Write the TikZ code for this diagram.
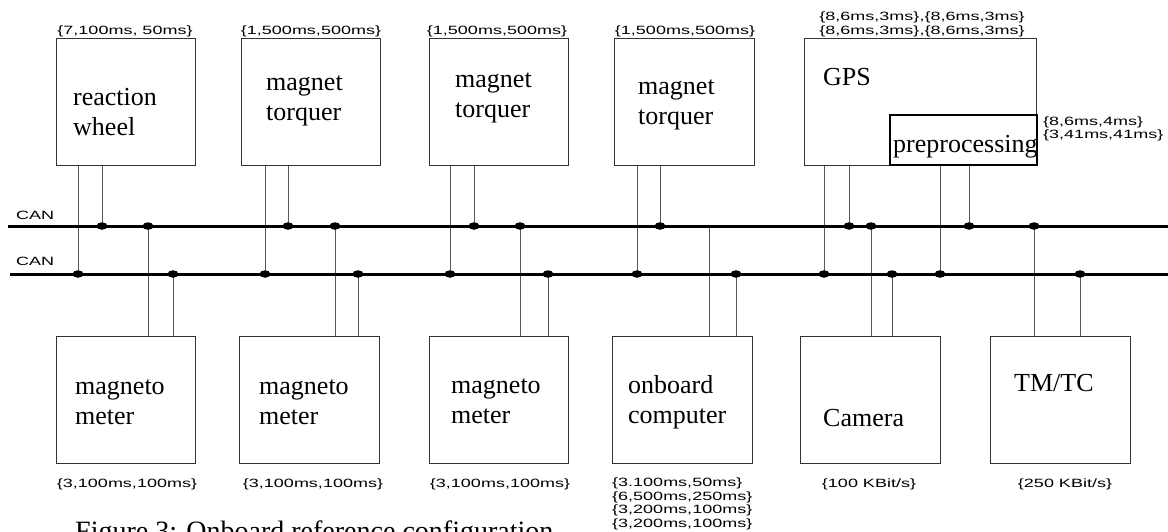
\documentclass[tikz,border=0pt]{standalone}
\usepackage{fontspec}
\usetikzlibrary{shapes.geometric,backgrounds}
\newfontfamily\serifface{Liberation Serif}
\newfontfamily\sansface[FakeStretch=1.5]{Liberation Sans}
\newcommand\unitfont{\serifface\fontsize{26}{30}\selectfont}
\newcommand\timingfont{\sansface\fontsize{12}{13.5}\selectfont}
\newcommand\figfont{\serifface\fontsize{28}{32}\selectfont}

\begin{document}
\begin{tikzpicture}[
    x=1pt, y=-1pt,
    blk/.style={
        draw=black!80,
        line width=0.8pt,
        anchor=north west,
        inner sep=0pt,
        outer sep=0pt,
        minimum height=127pt
    },
    label/.style={font=\unitfont, anchor=base west, align=left, inner sep=0pt},
    timing/.style={font=\timingfont, inner sep=0pt},
    bus/.style={line width=3pt},
    tap/.style={ellipse, fill=black, inner sep=0pt, minimum width=11pt, minimum height=7.5pt},
    wire/.style={line width=0.8pt, draw=black!65}
]
\useasboundingbox (0,0) rectangle (1168,531);

% units above the buses
\node[blk, minimum width=139pt] (rw) at (56,38) {};
\node[blk, minimum width=139pt] (mtA) at (241,38) {};
\node[blk, minimum width=139pt] (mtB) at (429,38) {};
\node[blk, minimum width=140pt] (mtC) at (614,38) {};
\node[blk, minimum width=232pt] (gps) at (804,38) {};
\node[blk, draw=black, line width=1.8pt, fill=white, minimum width=147pt, minimum height=50pt] (pre) at (890,115) {};

% units below the buses
\node[blk, minimum width=139pt] (mmA) at (56,336) {};
\node[blk, minimum width=140pt] (mmB) at (239,336) {};
\node[blk, minimum width=139pt] (mmC) at (429,336) {};
\node[blk, minimum width=140pt] (obc) at (612,336) {};
\node[blk, minimum width=140pt] (cam) at (800,336) {};
\node[blk, minimum width=140pt] (tmtc) at (990,336) {};

% the two CAN buses
\coordinate (canAw) at (8,226);
\coordinate (canAe) at (1168,226);
\coordinate (canBw) at (10,274);
\coordinate (canBe) at (1168,274);
\draw[bus] (canAw) -- (canAe);
\draw[bus] (canBw) -- (canBe);
\node[timing, anchor=base west] (canAlbl) at (16,219.5) {CAN};
\node[timing, anchor=base west] (canBlbl) at (16,265) {CAN};

% taps of the upper units
\foreach \x/\y/\blk in {78/274/rw, 102/226/rw, 265/274/mtA, 288/226/mtA,
    450/274/mtB, 474/226/mtB, 637/274/mtC, 660/226/mtC,
    824/274/gps, 849/226/gps, 940/274/pre, 969/226/pre} {
    \node[tap] (tap\x) at (\x,\y) {};
    \begin{scope}[on background layer]
        \draw[wire] (tap\x.center) -- (tap\x |- \blk.south);
    \end{scope}
}

% taps of the lower units
\foreach \x/\y/\blk in {148/226/mmA, 173/274/mmA, 335/226/mmB, 358/274/mmB,
    520/226/mmC, 548/274/mmC, 736/274/obc,
    871/226/cam, 892/274/cam, 1034/226/tmtc, 1080/274/tmtc} {
    \node[tap] (tap\x) at (\x,\y) {};
    \begin{scope}[on background layer]
        \draw[wire] (tap\x.center) -- (tap\x |- \blk.north);
    \end{scope}
}
\coordinate (tap709) at (709,226);
\begin{scope}[on background layer]
    \draw[wire] (tap709) -- (tap709 |- obc.north);
\end{scope}

% unit names (base = last line)
\node[label] (rwtxt) at (73,135) {reaction\\wheel};
\node[label] (mtAtxt) at (266,120) {magnet\\torquer};
\node[label] (mtBtxt) at (455,117) {magnet\\torquer};
\node[label] (mtCtxt) at (638,124) {magnet\\torquer};
\node[label] (gpstxt) at (823,85) {GPS};
\node[label] (pretxt) at (893,152) {preprocessing};
\node[label] (mmAtxt) at (75,424) {magneto\\meter};
\node[label] (mmBtxt) at (259,424) {magneto\\meter};
\node[label] (mmCtxt) at (451,423) {magneto\\meter};
\node[label] (obctxt) at (628,423) {onboard\\computer};
\node[label] (camtxt) at (823,426) {Camera};
\node[label] (tmtctxt) at (1014,391) {TM/TC};

% timing annotations
\node[timing, anchor=base] (rwt) at (125,34) {\{7,100ms, 50ms\}};
\node[timing, anchor=base] (mtAt) at (311,34) {\{1,500ms,500ms\}};
\node[timing, anchor=base] (mtBt) at (497,34) {\{1,500ms,500ms\}};
\node[timing, anchor=base] (mtCt) at (685,34) {\{1,500ms,500ms\}};
\node[timing, anchor=base, align=center] (gpst) at (922,34) {\{8,6ms,3ms\},\{8,6ms,3ms\}\\\{8,6ms,3ms\},\{8,6ms,3ms\}};
\node[timing, anchor=base west, align=left, font=\sansface\fontsize{12}{11}\selectfont] (pret) at (1043,138) {\{8,6ms,4ms\}\\\{3,41ms,41ms\}};
\node[timing, anchor=base] (mmAt) at (127,487) {\{3,100ms,100ms\}};
\node[timing, anchor=base] (mmBt) at (313,487) {\{3,100ms,100ms\}};
\node[timing, anchor=base] (mmCt) at (500,487) {\{3,100ms,100ms\}};
\node[timing, anchor=base west, align=left] (obct) at (612,527) {\{3.100ms,50ms\}\\\{6,500ms,250ms\}\\\{3,200ms,100ms\}\\\{3,200ms,100ms\}};
\node[timing, anchor=base] (camt) at (869,487) {\{100 KBit/s\}};
\node[timing, anchor=base] (tmtct) at (1065,487) {\{250 KBit/s\}};

% caption, cut by the lower edge
\node[font=\figfont, anchor=base west, inner sep=0pt] (fig) at (75,540.5) {Figure 3: Onboard reference configuration};
\end{tikzpicture}
\end{document}
